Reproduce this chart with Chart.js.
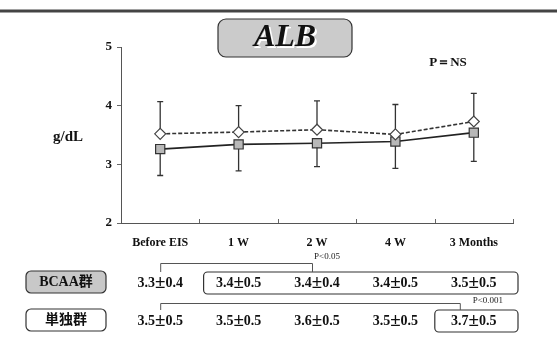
<!DOCTYPE html>
<html lang="ja">
<head>
<meta charset="UTF-8">
<title>ALB</title>
<script src="https://cdn.jsdelivr.net/npm/chart.js"></script>
<style>
  html, body { margin: 0; padding: 0; background: #fff; }
  #wrap { width: 557px; height: 342px; }
</style>
</head>
<body>
<div id="wrap"><canvas id="albChart"></canvas></div>
<script>
// time points
const labels = ['Before EIS', '1 W', '2 W', '4 W', '3 Months'];
// 単独群 (dashed line, diamonds) - mean and SD in g/dL
const tandokuMean = [3.52, 3.55, 3.59, 3.51, 3.73];
const tandokuSD = [0.55, 0.45, 0.49, 0.51, 0.48];
// BCAA群 (solid line, squares)
const bcaaMean = [3.26, 3.34, 3.36, 3.39, 3.54];
const bcaaSD = [0.45, 0.45, 0.40, 0.46, 0.49];
// table under the chart: mean ± SD as printed
const bcaaText = [['3.3', '0.4'], ['3.4', '0.5'], ['3.4', '0.4'], ['3.4', '0.5'], ['3.5', '0.5']];
const tandokuText = [['3.5', '0.5'], ['3.5', '0.5'], ['3.6', '0.5'], ['3.5', '0.5'], ['3.7', '0.5']];
const rowNames = ['BCAA群', '単独群'];
const pTexts = ['P<0.05', 'P<0.001'];

const SERIF = '"Liberation Serif", "Times New Roman", serif';
const SERIF_CJK = '"Liberation Serif", "Noto Sans CJK JP", serif';

function roundBox(ctx, x, y, w, h, r, fill, stroke) {
    ctx.beginPath();
    ctx.roundRect(x, y, w, h, r);
    if (fill) { ctx.fillStyle = fill; ctx.fill(); }
    ctx.strokeStyle = stroke || '#333';
    ctx.lineWidth = 1.2;
    ctx.stroke();
}

// "3.4±0.5" with a wide plus-minus sign, centred on cx
function pmText(ctx, parts, cx, y) {
    const numFont = 'bold 14px ' + SERIF;
    const pmFont = 'bold 19px ' + SERIF;
    ctx.font = numFont;
    const a = ctx.measureText(parts[0]).width;
    const c = ctx.measureText(parts[1]).width;
    ctx.font = pmFont;
    const b = ctx.measureText('±').width;
    let x = cx - (a + b + c) / 2;
    ctx.textAlign = 'left';
    ctx.font = numFont;
    ctx.fillText(parts[0], x, y);
    ctx.font = pmFont;
    ctx.fillText('±', x + a, y);
    ctx.font = numFont;
    ctx.fillText(parts[1], x + a + b, y);
    ctx.textAlign = 'center';
}

// error bars: 単独群 upward, BCAA群 downward
const errorBars = {
    id: 'errorBars',
    beforeDatasetsDraw(chart) {
        const ctx = chart.ctx;
        const y = chart.scales.y;
        ctx.save();
        ctx.strokeStyle = '#333';
        ctx.lineWidth = 1.3;
        [[0, tandokuMean, tandokuSD, 1], [1, bcaaMean, bcaaSD, -1]].forEach(([di, m, sd, dir]) => {
            chart.getDatasetMeta(di).data.forEach((pt, i) => {
                const y0 = y.getPixelForValue(m[i]);
                const y1 = y.getPixelForValue(m[i] + dir * sd[i]);
                ctx.beginPath();
                ctx.moveTo(pt.x, y0);
                ctx.lineTo(pt.x, y1);
                ctx.moveTo(pt.x - 3, y1);
                ctx.lineTo(pt.x + 3, y1);
                ctx.stroke();
            });
        });
        ctx.restore();
    }
};

// everything around the plot: title box, labels, table
const decorations = {
    id: 'decorations',
    afterDraw(chart) {
        const ctx = chart.ctx;
        const x = chart.scales.x;
        const area = chart.chartArea;
        const cx = labels.map((_, i) => x.getPixelForValue(i));
        const step = cx[1] - cx[0];
        ctx.save();

        // top rule
        ctx.strokeStyle = '#444';
        ctx.lineWidth = 3;
        ctx.beginPath();
        ctx.moveTo(0, 11);
        ctx.lineTo(557, 11);
        ctx.stroke();

        // x-axis boundary ticks (pointing up)
        ctx.strokeStyle = '#666';
        ctx.lineWidth = 1;
        for (let i = 0; i < labels.length; i++) {
            const bx = Math.round(cx[i] + step / 2) + 0.5;
            ctx.beginPath();
            ctx.moveTo(bx, area.bottom);
            ctx.lineTo(bx, area.bottom - 4);
            ctx.stroke();
        }

        // title
        roundBox(ctx, 218, 19, 134, 38, 8, '#cbcbcb', '#333');
        ctx.font = 'italic bold 32px ' + SERIF;
        ctx.textAlign = 'center';
        ctx.textBaseline = 'middle';
        ctx.fillStyle = '#fff';
        ctx.fillText('ALB', 287, 40);
        ctx.fillStyle = '#111';
        ctx.fillText('ALB', 285, 38);

        ctx.font = 'bold 13px ' + SERIF;
        ctx.fillText('P＝NS', 448, 63);

        ctx.font = 'bold 15px ' + SERIF;
        ctx.fillText('g/dL', 68, 137);

        // row labels
        roundBox(ctx, 26, 271, 80, 22, 5, '#c8c8c8', '#333');
        roundBox(ctx, 26, 309, 80, 22, 5, '#fff', '#333');
        ctx.fillStyle = '#111';
        ctx.font = 'bold 14px ' + SERIF_CJK;
        ctx.fillText(rowNames[0], 66, 282);
        ctx.fillText(rowNames[1], 66, 320);

        // values
        bcaaText.forEach((t, i) => pmText(ctx, t, cx[i], 283));
        tandokuText.forEach((t, i) => pmText(ctx, t, cx[i], 321));

        // grouping boxes
        roundBox(ctx, cx[1] - 35, 272, 518 - (cx[1] - 35), 22, 4, null, '#333');
        roundBox(ctx, cx[4] - 39, 310, 518 - (cx[4] - 39), 22, 4, null, '#333');

        // brackets
        ctx.strokeStyle = '#555';
        ctx.lineWidth = 1;
        ctx.beginPath();
        ctx.moveTo(cx[0] + 0.5, 272);
        ctx.lineTo(cx[0] + 0.5, 263.5);
        ctx.lineTo(cx[2] - 4.5, 263.5);
        ctx.lineTo(cx[2] - 4.5, 272);
        ctx.moveTo(cx[0] + 0.5, 310);
        ctx.lineTo(cx[0] + 0.5, 303.5);
        ctx.lineTo(cx[4] - 13.5, 303.5);
        ctx.lineTo(cx[4] - 13.5, 310);
        ctx.stroke();

        ctx.fillStyle = '#222';
        ctx.font = '9px ' + SERIF;
        ctx.fillText(pTexts[0], cx[2] + 10, 257);
        ctx.fillText(pTexts[1], cx[4] + 14, 301);

        ctx.restore();
    }
};

new Chart(document.getElementById('albChart'), {
    type: 'line',
    data: {
        labels: labels,
        datasets: [{
            label: '単独群',
            data: tandokuMean,
            borderColor: '#333',
            borderWidth: 1.6,
            borderDash: [4, 2],
            pointStyle: 'rectRot',
            pointRadius: 5.5,
            pointBackgroundColor: '#fff',
            pointBorderColor: '#444',
            pointBorderWidth: 1.2,
            tension: 0
        }, {
            label: 'BCAA群',
            data: bcaaMean,
            borderColor: '#222',
            borderWidth: 1.6,
            pointStyle: 'rect',
            pointRadius: 6.5,
            pointBackgroundColor: '#b8b8b8',
            pointBorderColor: '#333',
            pointBorderWidth: 1.2,
            tension: 0
        }]
    },
    options: {
        responsive: true,
        maintainAspectRatio: false,
        animation: false,
        events: [],
        layout: { padding: { top: 47, left: 0, right: 44, bottom: 89 } },
        plugins: { legend: { display: false }, tooltip: { enabled: false } },
        scales: {
            x: {
                offset: true,
                grid: { display: false, offset: true },
                border: { color: '#555', width: 1 },
                ticks: { color: '#111', padding: 5, font: { family: SERIF, size: 12, weight: 'bold' } },
                afterFit: s => { s.height = 30; }
            },
            y: {
                min: 2,
                max: 5,
                grid: { drawOnChartArea: false, tickLength: 4, color: '#666' },
                border: { color: '#555', width: 1 },
                ticks: { stepSize: 1, color: '#111', padding: 5, font: { family: SERIF, size: 13, weight: 'bold' } },
                afterFit: s => { s.width = 121; }
            }
        }
    },
    plugins: [errorBars, decorations]
});
</script>
</body>
</html>
